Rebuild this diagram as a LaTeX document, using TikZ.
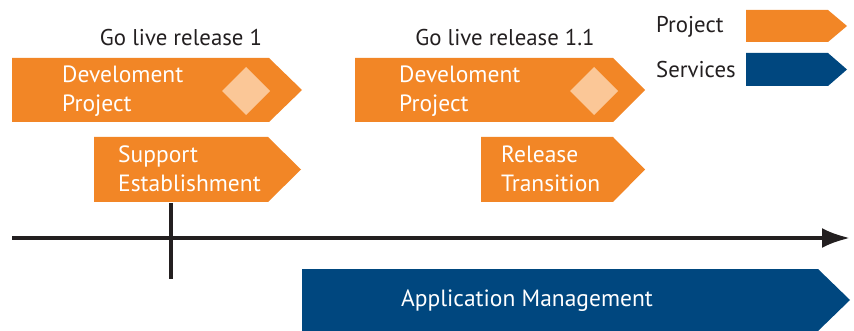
\documentclass[tikz,border=0pt]{standalone}
\usepackage{fontspec}
\setmainfont{PT Sans}
\usetikzlibrary{arrows.meta}
\definecolor{projorange}{HTML}{F28626}
\definecolor{servblue}{HTML}{00477F}
\definecolor{diamondpeach}{HTML}{FBC797}
\definecolor{axisblack}{HTML}{231F20}
\tikzset{
  boxtext/.style={inner sep=0pt, anchor=west, align=left, text=white, font=\fontsize{23.5}{29}\selectfont},
  labeltext/.style={inner sep=0pt, text=axisblack, font=\fontsize{22.8}{26}\selectfont},
  timeline/.style={draw=axisblack, line width=4pt, -{Latex[length=28pt,width=20pt]}},
  tickline/.style={draw=axisblack, line width=3.5pt},
}
% \arrowbox{color}{left}{top}{rectright}{bottom}{tip}
\newcommand\arrowbox[6]{%
  \fill[#1] (#2,#3) -- (#4,#3) -- (#6,{(#3+#5)/2}) -- (#4,#5) -- (#2,#5) -- cycle;}
\newcommand\peachdiamond[3]{%
  \fill[diamondpeach] (#1-#3,#2) -- (#1,#2-#3) -- (#1+#3,#2) -- (#1,#2+#3) -- cycle;}
\begin{document}
\begin{tikzpicture}[x=1pt,y=-1pt]
\useasboundingbox (0,0) rectangle (854,331);
% titles
\node[labeltext] (go1) at (181,38) {Go live release 1};
\node[labeltext] (go11) at (505,38) {Go live release 1.1};
% legend
\arrowbox{projorange}{746}{10}{828}{42}{847}
\arrowbox{servblue}{746}{53}{828}{86}{847}
\node[labeltext, anchor=west] (legproj) at (656,27) {Project};
\node[labeltext, anchor=west] (legserv) at (656,70) {Services};
% development project 1
\arrowbox{projorange}{12}{58}{269}{122}{302}
\peachdiamond{246}{91}{24}
\node[boxtext] (dev1) at (62,91) {Develoment\\Project};
% support establishment
\arrowbox{projorange}{94}{137}{268}{202}{301}
\node[boxtext] (supp) at (118,169) {Support\\Establishment};
% development project 2
\arrowbox{projorange}{355}{58}{613}{122}{645}
\peachdiamond{594}{91}{24}
\node[boxtext] (dev2) at (399,91) {Develoment\\Project};
% release transition
\arrowbox{projorange}{481}{137}{613}{202}{645}
\node[boxtext] (rel) at (501,169) {Release\\Transition};
% timeline
\coordinate (axL) at (12,238);
\coordinate (axR) at (850,238);
\draw[timeline] (axL) -- (axR);
\coordinate (tickT) at (171,203);
\coordinate (tickB) at (171,279);
\draw[tickline] (tickT) -- (tickB);
% application management
\arrowbox{servblue}{302}{269}{818}{331}{850}
\node[boxtext, anchor=center] (app) at (527,301) {Application Management};
\end{tikzpicture}
\end{document}
